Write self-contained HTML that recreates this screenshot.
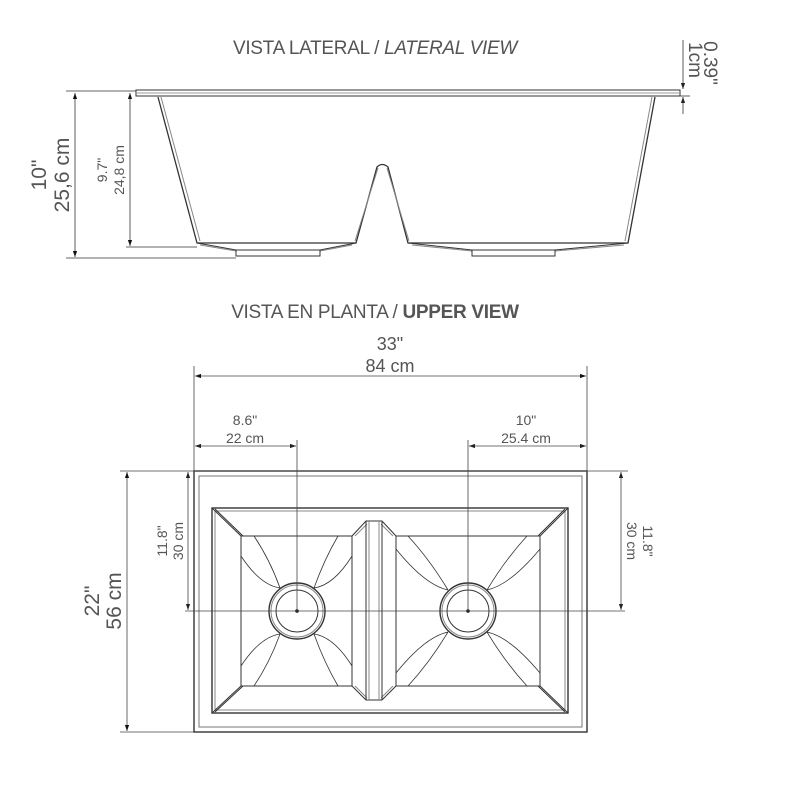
<!DOCTYPE html>
<html><head><meta charset="utf-8"><style>
html,body{margin:0;padding:0;background:#fff;}
svg{display:block;}
text{font-family:"Liberation Sans",sans-serif;fill:#555;}
</style></head><body>
<svg width="800" height="800" viewBox="0 0 800 800" xmlns="http://www.w3.org/2000/svg">
<defs>
<marker id="a" viewBox="0 0 10 10" refX="10" refY="5" markerWidth="10" markerHeight="6" orient="auto-start-reverse" markerUnits="userSpaceOnUse"><path d="M0,1.5 L10,5 L0,8.5z" fill="#222"/></marker>
<marker id="b" viewBox="0 0 10 10" refX="10" refY="5" markerWidth="16" markerHeight="6" orient="auto-start-reverse" markerUnits="userSpaceOnUse"><path d="M0,1.5 L10,5 L0,8.5z" fill="#111"/></marker>
</defs>

<text x="375" y="54" font-size="19" text-anchor="middle" fill="#666" style="letter-spacing:-0.3px">VISTA LATERAL / <tspan font-style="italic">LATERAL VIEW</tspan></text>
<text x="375" y="318" font-size="19" text-anchor="middle" fill="#666" style="letter-spacing:-0.3px">VISTA EN PLANTA / <tspan font-weight="bold">UPPER VIEW</tspan></text>

<g stroke="#333" fill="none" stroke-width="1">
<rect x="136" y="90" width="544" height="6" fill="#fff"/>
<line x1="136" y1="93" x2="680" y2="93" stroke="#999"/>
<path d="M158,97 L197,243 L356,243 L377,167 Q382,162 388,167 L408,243 L628,243 L655,97" stroke-width="1.3"/>
<path d="M161,97 L200,241 M355,241 L378,168 M387,168 L409,241 M625,241 L652,97" stroke="#888"/>
<path d="M197,243 L236,250 L320,250 L356,243 M408,243 L472,250 L555,250 L628,243"/>
<path d="M200,245 L236,251 M320,251 L352,245 M412,245 L472,251 M555,251 L624,245" stroke="#888"/>
<rect x="236" y="250" width="84" height="6"/>
<rect x="472" y="250" width="83" height="6"/>
</g>
<g stroke="#333" stroke-width="0.8" fill="none">
<line x1="66" y1="91" x2="136" y2="91"/>
<line x1="66" y1="258" x2="236" y2="258"/>
<line x1="126" y1="247" x2="197" y2="247"/>
<line x1="75" y1="93" x2="75" y2="257" marker-start="url(#b)" marker-end="url(#b)"/>
<line x1="130" y1="93" x2="130" y2="246" marker-start="url(#b)" marker-end="url(#b)"/>
<line x1="683" y1="40" x2="683" y2="89" marker-end="url(#a)"/>
<line x1="683" y1="114" x2="683" y2="97" marker-end="url(#a)"/>
<line x1="676" y1="96" x2="690" y2="96"/>
</g>
<text transform="translate(46,175) rotate(-90)" font-size="21" text-anchor="middle" fill="#333">10"</text>
<text transform="translate(69,175) rotate(-90)" font-size="21" text-anchor="middle" fill="#333">25,6 cm</text>
<text transform="translate(107,170) rotate(-90)" font-size="14" text-anchor="middle">9.7"</text>
<text transform="translate(124,170) rotate(-90)" font-size="14" text-anchor="middle">24,8 cm</text>
<text transform="translate(689,60) rotate(90)" font-size="19" text-anchor="middle" fill="#333">1cm</text>
<text transform="translate(704,63) rotate(90)" font-size="19" text-anchor="middle" fill="#333">0.39"</text>

<g stroke="#333" fill="none" stroke-width="1">
<rect x="194" y="471" width="393" height="261" stroke-width="1.4"/>
<rect x="199" y="476" width="383" height="251" stroke="#777"/>
<rect x="212" y="508" width="356" height="205" stroke-width="1.4"/>
<rect x="215" y="511" width="350" height="199" stroke="#888"/>
<rect x="241" y="536" width="111" height="150"/>
<path d="M212,508 L241,536 M215,509 L243,536 M212,713 L241,686 M215,712 L243,686"/>
<rect x="396" y="536" width="144" height="150"/>
<path d="M568,508 L540,536 M565,509 L538,536 M568,713 L540,686 M565,712 L538,686"/>
<path d="M352,536 L366,521 L382,521 L396,536 M352,686 L366,700 L382,700 L396,686"/>
<path d="M355,536 L367,524 M393,536 L381,524 M355,686 L367,698 M393,686 L381,698" stroke="#888"/>
<line x1="366" y1="521" x2="366" y2="700"/><line x1="369" y1="521" x2="369" y2="700" stroke="#888"/>
<line x1="382" y1="521" x2="382" y2="700"/><line x1="379" y1="521" x2="379" y2="700" stroke="#888"/>
<circle cx="297" cy="611" r="28" stroke-width="1.4"/><circle cx="297" cy="611" r="26" stroke="#888"/><circle cx="297" cy="611" r="21"/>
<circle cx="468" cy="611" r="28" stroke-width="1.4"/><circle cx="468" cy="611" r="26" stroke="#888"/><circle cx="468" cy="611" r="21"/>
<path d="M280,588 Q270,560 254,536 M280,588 Q260,585 241,556 M314,588 Q324,560 338,536 M314,588 Q334,585 352,556 M280,634 Q270,662 254,686 M280,634 Q260,637 241,666 M314,634 Q324,662 338,686 M314,634 Q334,637 352,666" stroke-width="0.8"/>
<path d="M448,590 Q430,560 408,536 M448,590 Q425,585 396,549 M487,590 Q505,560 527,536 M487,590 Q510,585 540,549 M448,632 Q430,662 408,686 M448,632 Q425,637 396,673 M487,632 Q505,662 527,686 M487,632 Q510,637 540,673" stroke-width="0.8"/>
</g>
<circle cx="297" cy="611" r="1.8" fill="#111"/><circle cx="468" cy="611" r="1.8" fill="#111"/>

<g stroke="#444" stroke-width="0.8" fill="none">
<line x1="194" y1="366" x2="194" y2="471"/>
<line x1="587" y1="366" x2="587" y2="471"/>
<line x1="195" y1="376" x2="586" y2="376" marker-start="url(#b)" marker-end="url(#b)"/>
<line x1="297" y1="440" x2="297" y2="611"/>
<line x1="468" y1="440" x2="468" y2="611"/>
<line x1="195" y1="446" x2="296" y2="446" marker-start="url(#a)" marker-end="url(#a)"/>
<line x1="469" y1="446" x2="586" y2="446" marker-start="url(#a)" marker-end="url(#a)"/>
<line x1="120" y1="471" x2="628" y2="471"/>
<line x1="120" y1="732" x2="194" y2="732"/>
<line x1="127" y1="472" x2="127" y2="731" marker-start="url(#b)" marker-end="url(#b)"/>
<line x1="185" y1="611" x2="625" y2="611"/>
<line x1="188" y1="472" x2="188" y2="610" marker-start="url(#a)" marker-end="url(#a)"/>
<line x1="621" y1="472" x2="621" y2="610" marker-start="url(#a)" marker-end="url(#a)"/>
</g>
<text x="390" y="350" font-size="18" text-anchor="middle" fill="#333">33"</text>
<text x="390" y="372" font-size="18" text-anchor="middle" fill="#333">84 cm</text>
<text x="245" y="425" font-size="14" text-anchor="middle">8.6"</text>
<text x="245" y="443" font-size="14" text-anchor="middle">22 cm</text>
<text x="526" y="425" font-size="14" text-anchor="middle">10"</text>
<text x="526" y="443" font-size="14" text-anchor="middle">25.4 cm</text>
<text transform="translate(99,601) rotate(-90)" font-size="21" text-anchor="middle" fill="#333">22"</text>
<text transform="translate(121,601) rotate(-90)" font-size="21" text-anchor="middle" fill="#333">56 cm</text>
<text transform="translate(167,541) rotate(-90)" font-size="14" text-anchor="middle">11.8"</text>
<text transform="translate(183,541) rotate(-90)" font-size="14" text-anchor="middle">30 cm</text>
<text transform="translate(627,541) rotate(90)" font-size="14" text-anchor="middle">30 cm</text>
<text transform="translate(643,541) rotate(90)" font-size="14" text-anchor="middle">11.8"</text>
</svg>
</body></html>
